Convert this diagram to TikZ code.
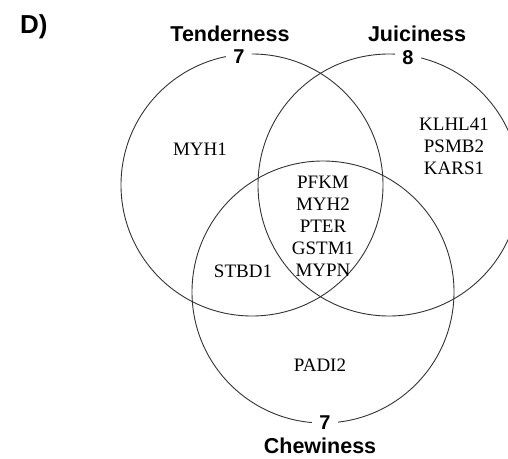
\documentclass[tikz,border=0pt]{standalone}
\usepackage{fontspec}
\setmainfont{Liberation Serif}
\newfontfamily\headfont{Liberation Sans}
\begin{document}
\begin{tikzpicture}[x=1pt,y=-1pt,
  setcircle/.style={circle, draw=black!80, line width=0.9pt, minimum size=262pt, inner sep=0pt},
  gene/.style={font=\fontsize{19}{22}\selectfont, align=center, inner sep=0pt},
  head/.style={font=\headfont\bfseries\fontsize{21.5}{24}\selectfont, inner sep=0pt, anchor=base},
  count/.style={circle, fill=white, inner sep=3pt, anchor=base, font=\headfont\bfseries\fontsize{20}{24}\selectfont}]
\useasboundingbox (0,0) rectangle (508,458);
\node[setcircle] (T) at (252,185) {};
\node[setcircle] (J) at (389,185) {};
\node[setcircle] (C) at (323,292) {};
\node[head, font=\headfont\bfseries\fontsize{26}{28}\selectfont, anchor=base west] (lab) at (20,33) {D)};
\node[head] (tn) at (230,41) {Tenderness};
\node[head] (jn) at (417,41) {Juiciness};
\node[head] (cn) at (320,453) {Chewiness};
\node[count] (tc) at (239,63) {7};
\node[count] (jc) at (408,64) {8};
\node[count] (cc) at (325,429) {7};
\node[gene] (g1) at (200,149) {MYH1};
\node[gene] (g2) at (454,146) {KLHL41\\PSMB2\\KARS1};
\node[gene] (g3) at (323,226) {PFKM\\MYH2\\PTER\\GSTM1\\MYPN};
\node[gene] (g4) at (243,271) {STBD1};
\node[gene] (g5) at (320,365) {PADI2};
\end{tikzpicture}
\end{document}
